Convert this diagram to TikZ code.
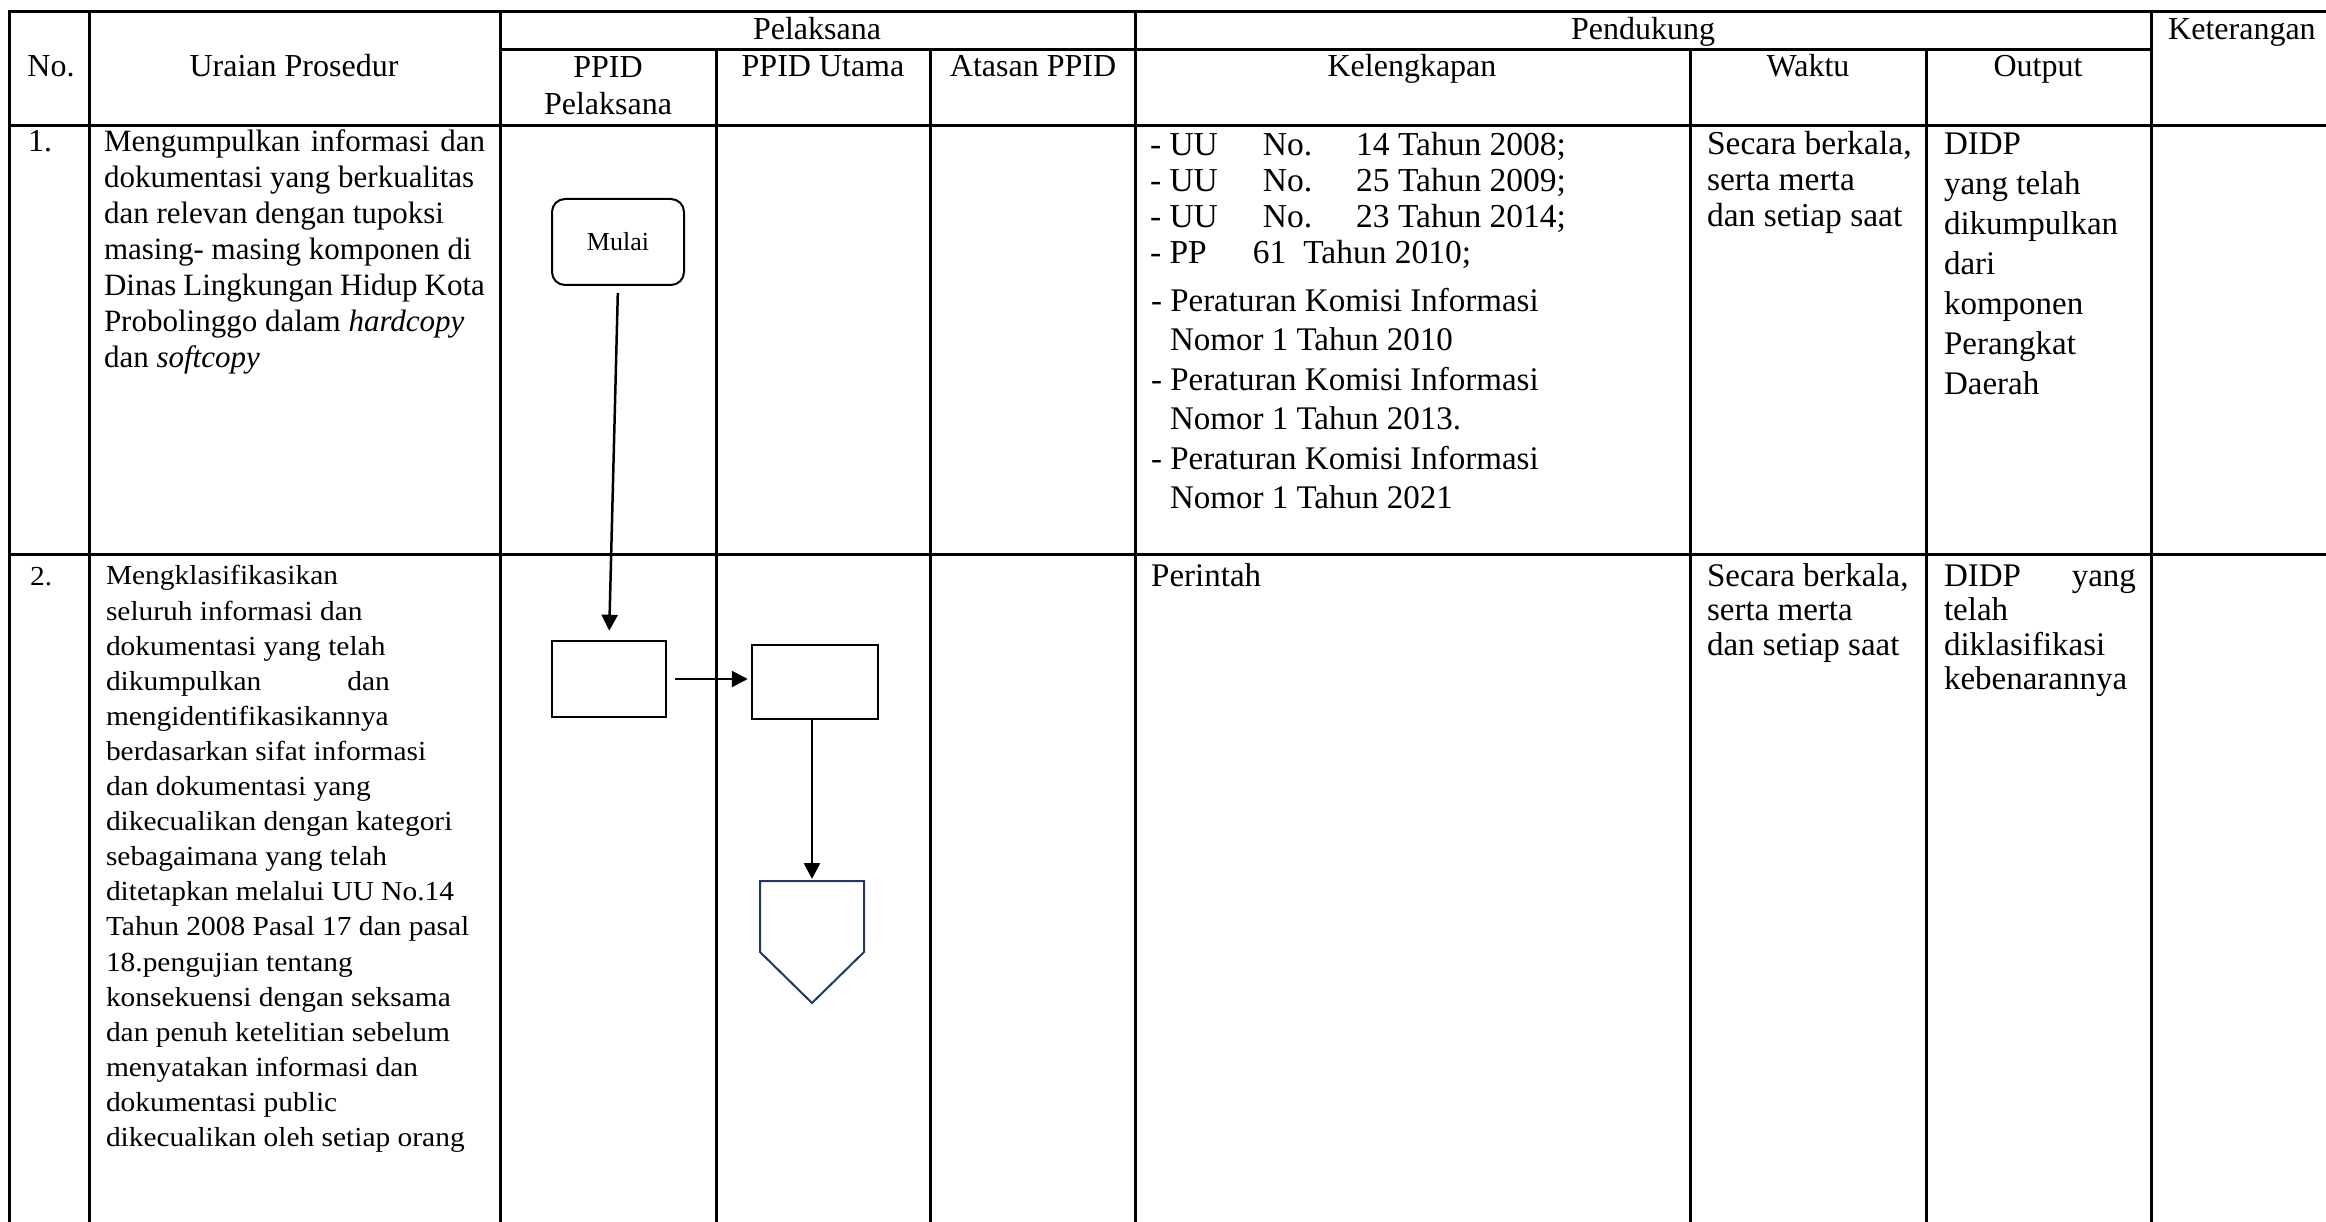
\documentclass[tikz,border=0pt]{standalone}
\usepackage{fontspec}
\setmainfont{Liberation Serif}
\newfontfamily\widefont{Liberation Serif}[FakeStretch=1.07]
\usetikzlibrary{arrows.meta,calc}
\definecolor{navy}{RGB}{31,56,100}
\tikzset{
  tbl/.style={line width=3pt},
  cell/.style={inner sep=0pt, outer sep=0pt, align=left, anchor=north west},
  single/.style={inner sep=0pt, anchor=base west},
  hdr/.style={inner sep=0pt, anchor=base, font=\fontsize{32}{37}\selectfont},
  startbox/.style={draw, line width=2pt, rounded corners=13pt, minimum width=132pt, minimum height=86pt, inner sep=0pt, font=\fontsize{26}{30}\selectfont},
  procbox/.style={draw, line width=2.5pt, inner sep=0pt},
  conn/.style={line width=2.5pt, -{Triangle[length=16pt,width=16pt]}},
  offpage/.style={draw=navy, line width=2pt, line join=miter},
  bodyA/.style={font=\fontsize{31}{36}\selectfont},
  bodyB/.style={font=\fontsize{33.5}{36}\selectfont},
  bodyC/.style={font=\fontsize{33}{39.5}\selectfont},
  bodyO/.style={font=\fontsize{33}{40}\selectfont},
  bodyD/.style={font=\fontsize{33}{34.5}\selectfont},
  bodyW/.style={font=\widefont\fontsize{27.5}{35.1}\selectfont}
}
\begin{document}
\begin{tikzpicture}[x=1pt,y=-1pt]
\useasboundingbox (0,0) rectangle (2326,1222);
\fill[white] (0,0) rectangle (2326,1222);
% ---- table grid ----
\draw[tbl] (9,1222) -- (9,12) -- (2326,12);
\draw[tbl] (89,12) -- (89,1222);
\draw[tbl] (500,12) -- (500,1222);
\draw[tbl] (716,50) -- (716,1222);
\draw[tbl] (930,50) -- (930,1222);
\draw[tbl] (1135,12) -- (1135,1222);
\draw[tbl] (1690,50) -- (1690,1222);
\draw[tbl] (1926,50) -- (1926,1222);
\draw[tbl] (2151,12) -- (2151,1222);
\draw[tbl] (500,50) -- (2151,50);
\draw[tbl] (9,126) -- (2326,126);
\draw[tbl] (9,554) -- (2326,554);
% ---- header ----
\node[hdr] (hno) at (51,77) {No.};
\node[hdr] (hur) at (294,77) {Uraian Prosedur};
\node[hdr] (hpel) at (817,40) {Pelaksana};
\node[hdr] (hpen) at (1643,40) {Pendukung};
\node[hdr, anchor=base west] (hket) at (2168,40) {Keterangan};
\node[inner sep=0pt, anchor=north, align=center, font=\fontsize{32}{37}\selectfont] (hppid) at (608,51.1) {\strut PPID\\Pelaksana};
\node[hdr] (hutama) at (823,77) {PPID Utama};
\node[hdr] (hatasan) at (1033,77) {Atasan PPID};
\node[hdr] (hkel) at (1412,77) {Kelengkapan};
\node[hdr] (hwaktu) at (1808,77) {Waktu};
\node[hdr] (hout) at (2038,77) {Output};
% ---- row 1 ----
\node[single, font=\fontsize{32}{36}\selectfont] (n1) at (28,152) {1.};
\node[cell, bodyA] (u1) at (104,126.8) {\strut\makebox[381pt][s]{Mengumpulkan informasi dan}\\
dokumentasi yang berkualitas\\
dan relevan dengan tupoksi\\
masing- masing komponen di\\
\makebox[381pt][s]{Dinas Lingkungan Hidup Kota}\\
Probolinggo dalam \textit{hardcopy}\\
dan \textit{softcopy}};
\node[cell, bodyB] (k1a) at (1150,130.8) {\strut- UU\hspace{45pt}No.\hspace{44pt}14 Tahun 2008;\\
- UU\hspace{45pt}No.\hspace{44pt}25 Tahun 2009;\\
- UU\hspace{45pt}No.\hspace{44pt}23 Tahun 2014;\\
- PP\hspace{46pt}61\hspace{17pt}Tahun 2010;};
\node[cell, bodyC] (k1b) at (1151,283.4) {\strut- Peraturan Komisi Informasi\\
\hspace*{19pt}Nomor 1 Tahun 2010\\
- Peraturan Komisi Informasi\\
\hspace*{19pt}Nomor 1 Tahun 2013.\\
- Peraturan Komisi Informasi\\
\hspace*{19pt}Nomor 1 Tahun 2021};
\node[cell, bodyB] (w1) at (1707,129.3) {\strut Secara berkala,\\serta merta\\dan setiap saat};
\node[cell, bodyO] (o1) at (1944,126.5) {\strut DIDP\\yang telah\\dikumpulkan\\dari\\komponen\\Perangkat\\Daerah};
% ---- row 2 ----
\node[single, font=\widefont\fontsize{27.5}{35}\selectfont] (n2) at (30,585) {2.};
\node[cell, bodyW] (u2) at (106,560.4) {\strut Mengklasifikasikan\\
seluruh informasi dan\\
dokumentasi yang telah\\
dikumpulkan\hspace{86pt}dan\\
mengidentifikasikannya\\
berdasarkan sifat informasi\\
dan dokumentasi yang\\
dikecualikan dengan kategori\\
sebagaimana yang telah\\
ditetapkan melalui UU No.14\\
Tahun 2008 Pasal 17 dan pasal\\
18.pengujian tentang\\
konsekuensi dengan seksama\\
dan penuh ketelitian sebelum\\
menyatakan informasi dan\\
dokumentasi public\\
dikecualikan oleh setiap orang};
\node[single, font=\fontsize{33}{35}\selectfont] (k2) at (1151,586) {Perintah};
\node[cell, bodyD] (w2) at (1707,561.9) {\strut Secara berkala,\\serta merta\\dan setiap saat};
\node[cell, bodyD] (o2) at (1944,561.9) {\strut\makebox[192pt][s]{DIDP yang}\\telah\\diklasifikasi\\kebenarannya};
% ---- flowchart ----
\node[startbox] (mulai) at (618,242) {Mulai};
\node[procbox, minimum width=114pt, minimum height=76pt] (p1) at (609,679) {};
\node[procbox, minimum width=126pt, minimum height=74pt] (p2) at (815,682) {};
\coordinate (offtop) at (812,881);
\draw[offpage] ($(offtop)+(-52,0)$) -- ($(offtop)+(52,0)$) -- ($(offtop)+(52,71)$) -- ($(offtop)+(0,122)$) -- ($(offtop)+(-52,71)$) -- cycle;
\draw[conn, shorten <=7pt, shorten >=9pt] (mulai.south) -- (p1.north);
\draw[conn, shorten <=8pt, shorten >=3pt] (p1.east) -- (p2.west |- p1.east);
\draw[conn, shorten >=2pt] (p2.south -| offtop) -- (offtop);
\end{tikzpicture}
\end{document}
